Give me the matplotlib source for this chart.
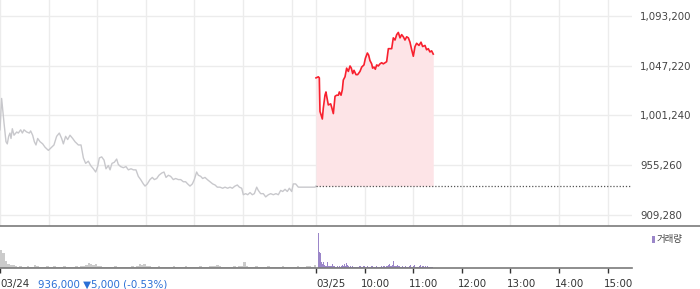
import matplotlib
matplotlib.use("Agg")
import matplotlib.pyplot as plt
import matplotlib.transforms as mtransforms
from matplotlib.patches import Rectangle
import numpy as np

# 03/24 intraday (minutes after 09:00, price)
day1_min = [0, 2, 5, 7.4, 9, 10.7, 12.3, 13.6, 15.2, 17.3, 20.6, 22.6, 25.5, 27.6, 29.6,
            32.9, 36.2, 37.8, 40.3, 42.4, 44.4, 46.5, 49.4, 52.7, 55.5, 59.7, 63.8, 66.6,
            69.9, 73.2, 76.1, 78.2, 81, 83.5, 86.4, 89.7, 92.6, 96.7, 100, 102.9, 105.7,
            109, 111.9, 115.2, 118.1, 120.5, 122.6, 125.5, 128.4, 130.8, 133.7, 135.8,
            138.2, 141.1, 144, 146, 148.9, 152.2, 155.5, 158.4, 161.7, 164.6, 167.8, 170.7,
            173.6, 176.9, 179, 181.8, 185.1, 188, 190.5, 193.4, 196.2, 199.5, 202.4, 204.9,
            207.8, 210.6, 213.9, 216.8, 220.1, 223, 226.3, 229.1, 231.6, 234.5, 237.4,
            239.8, 242.7, 244.8, 247.7, 250.1, 253, 255.9, 259.2, 262.5, 265.4, 268.2,
            271.5, 274.8, 277.7, 281, 283.9, 286.7, 290, 292.9, 295.4, 298.3, 300.3, 303.2,
            305.7, 308.6, 311.4, 313.9, 316.8, 318.8, 321.7, 325, 327.9, 331.2, 334.1,
            337.3, 340.6, 343.5, 346.4, 348.9, 351.8, 354.6, 357.1, 360, 362, 364.9, 368.2,
            372.3, 376.4, 380.5, 384.7, 388.8, 390]
day1_price = [988000, 1017000, 994000, 977000, 975000, 982000, 985000, 980000, 989000,
              983000, 986000, 985000, 988000, 985000, 988000, 986000, 985000, 987000,
              983000, 977000, 974000, 980000, 977000, 975000, 972000, 969000, 972000,
              974000, 982000, 985000, 980000, 975000, 982000, 979000, 983000, 980000,
              977000, 974000, 974000, 962000, 957000, 959000, 955000, 952000, 949000,
              954000, 962000, 963000, 960000, 952000, 955000, 951000, 957000, 958000,
              961000, 956000, 954000, 953000, 954000, 951000, 952000, 951000, 951000,
              945000, 942000, 938000, 936000, 938000, 942000, 944000, 942000, 943000,
              946000, 948000, 949000, 944000, 946000, 945000, 942000, 943000, 942000,
              942000, 940000, 940000, 938000, 936000, 938000, 942000, 949000, 946000,
              945000, 943000, 944000, 942000, 940000, 938000, 937000, 935000, 935000,
              934000, 935000, 934000, 935000, 934000, 936000, 937000, 935000, 934000,
              928000, 929000, 928000, 930000, 928000, 929000, 935000, 932000, 929000,
              929000, 926000, 928000, 929000, 928000, 929000, 928000, 932000, 931000,
              933000, 931000, 934000, 931000, 938000, 938000, 935000, 935000, 935000,
              935000, 935000, 935000, 936000]

# 03/25 intraday
day2_min = [0, 2.9, 4.1, 4.9, 6.2, 7.8, 9, 11.1, 12.3, 13.2, 15.2, 18.1, 19.3, 21.4, 23.5,
            25.5, 27.6, 28.8, 30.9, 32.5, 33.7, 35.8, 37.8, 39.9, 42, 43.6, 45.3, 46.9,
            49.4, 51.4, 54.3, 56.4, 59.2, 60.9, 63.4, 65, 66.6, 68.7, 69.9, 71.6, 73.2,
            74.9, 76.9, 79, 81, 83.1, 85.2, 87.2, 89.3, 91.3, 93.4, 95.4, 97.5, 99.6,
            101.6, 103.7, 105.7, 107.8, 109.8, 111.9, 114, 116, 118.1, 120.1, 122.2,
            124.2, 127.1, 129.6, 131.6, 134.5, 136.5, 138.6, 140.6, 142.7, 144.7]
day2_price = [1036000, 1037000, 1036000, 1005000, 1002000, 998000, 1008000, 1020000,
              1023000, 1019000, 1011000, 1012000, 1009000, 1003000, 1019000, 1020000,
              1020000, 1023000, 1020000, 1025000, 1034000, 1037000, 1045000, 1042000,
              1047000, 1045000, 1040000, 1043000, 1039000, 1039000, 1042000, 1046000,
              1048000, 1054000, 1059000, 1057000, 1052000, 1049000, 1045000, 1046000,
              1044000, 1048000, 1047000, 1049000, 1050000, 1049000, 1050000, 1051000,
              1063000, 1063000, 1063000, 1073000, 1071000, 1076000, 1078000, 1073000,
              1076000, 1074000, 1071000, 1074000, 1073000, 1069000, 1062000, 1056000,
              1065000, 1068000, 1066000, 1069000, 1065000, 1066000, 1062000, 1063000,
              1060000, 1061000, 1058000]

prev_close = 936000

# volume: 03/24 in 3-minute bins, 03/25 per minute
vol1 = [17.7, 15.0, 7.5, 4.0, 3.3, 3.0, 2.0, 1.5, 1.7, 1.3,
        1.5, 2.0, 1.5, 1.3, 3.3, 1.7, 1.5, 1.3, 1.5, 1.8,
        1.5, 1.3, 2.0, 1.5, 1.3, 1.5, 1.7, 1.3, 1.5, 1.3,
        1.5, 1.8, 1.5, 1.7, 2.5, 3.0, 5.0, 4.0, 3.5, 4.5,
        2.5, 1.7, 1.5, 1.3, 1.5, 1.3, 1.5, 1.7, 1.3, 1.5,
        1.3, 1.5, 1.3, 1.5, 1.7, 1.5, 2.5, 4.3, 3.5, 4.0,
        2.5, 1.7, 1.5, 1.3, 1.5, 1.8, 1.5, 1.3, 1.5, 1.3,
        1.5, 1.7, 1.3, 1.5, 1.3, 1.5, 2.0, 1.5, 1.3, 1.5,
        1.3, 1.5, 1.7, 1.5, 1.3, 1.5, 2.0, 1.7, 2.5, 3.5,
        1.7, 1.5, 1.3, 1.5, 1.3, 1.5, 1.7, 1.5, 2.0, 2.5,
        5.7, 2.0, 1.5, 1.3, 1.5, 1.7, 1.3, 1.5, 1.3, 1.5,
        1.7, 1.5, 1.3, 1.5, 1.3, 1.5, 1.8, 1.5, 1.3, 1.5,
        1.3, 1.5, 1.7, 1.5, 1.3, 1.5, 2.5, 1.7, 1.5, 2.7]
vol2 = [0, 0, 35.3, 15.7, 14.7, 11.3, 6.3, 3.7, 5.7, 3.0,
        2.5, 2.3, 2.3, 6.3, 2.3, 2.0, 2.3, 2.0, 1.7, 3.7,
        2.0, 1.5, 1.7, 1.3, 1.5, 2.0, 1.5, 1.3, 2.3, 1.5,
        2.0, 2.5, 3.0, 2.3, 3.7, 2.5, 4.7, 2.5, 3.0, 1.7,
        1.5, 2.0, 1.3, 1.5, 2.3, 1.5, 1.3, 1.5, 1.3, 1.5,
        1.3, 1.5, 1.7, 1.3, 2.0, 1.5, 1.3, 1.5, 1.7, 2.0,
        1.5, 1.3, 1.5, 1.7, 1.5, 1.3, 1.5, 1.7, 2.0, 1.5,
        1.3, 1.5, 1.3, 1.5, 1.7, 1.5, 1.3, 1.5, 1.3, 1.5,
        1.7, 1.5, 2.0, 1.5, 1.7, 1.5, 2.0, 2.3, 3.0, 4.0,
        2.3, 2.0, 1.7, 3.0, 7.3, 3.3, 2.0, 2.3, 1.7, 2.0,
        3.3, 2.3, 1.7, 1.5, 1.3, 1.5, 1.7, 1.3, 1.5, 1.7,
        1.3, 1.5, 1.3, 1.5, 1.7, 2.0, 2.7, 1.5, 1.3, 2.0,
        3.0, 1.7, 1.3, 1.5, 1.0, 1.3, 1.5, 2.0, 2.7, 1.5,
        1.7, 1.5, 1.7, 1.3, 1.7, 1.5, 1.3, 1.7, 1.5, 1.3,
        1.0, 1.3, 1.0, 1.0]

y_ticks = [909280, 955260, 1001240, 1047220, 1093200]
x_ticks = [0, 390, 450, 510, 570, 630, 690, 750]
x_labels = ["03/24", "03/25", "10:00", "11:00", "12:00", "13:00", "14:00", "15:00"]
summary = "936,000 \u25bc5,000 (-0.53%)"

W, H = 700, 289
fig = plt.figure(figsize=(W / 100, H / 100), dpi=100)

# main price panel: x 0..632 px, y 0..226 px from top
ax = fig.add_axes([0, (H - 226) / H, 632 / W, 226 / H])
ax.set_xlim(0, 780)
ax.set_ylim(899100, 1108000)
for s in ax.spines.values():
    s.set_visible(False)
ax.set_xticks([])
ax.yaxis.tick_right()
ax.set_yticks(y_ticks)
ax.set_yticklabels([f"{v:,}" for v in y_ticks])
ax.tick_params(axis="y", length=0, pad=5.8, labelsize=7.4, labelcolor="#444444")
for v in y_ticks:
    ax.axhline(v, color="#ececec", lw=1, zorder=0)
for m in list(range(0, 390, 60)) + [390] + list(range(450, 780, 60)):
    ax.axvline(m, color="#ececec", lw=1, zorder=0)

ax.plot(day1_min, day1_price, color="#c8c8cc", lw=1, zorder=2)
x2 = np.array(day2_min) + 390
ax.fill_between(x2, day2_price, prev_close, color="#fde4e7", lw=0, zorder=1)
ax.plot(x2, day2_price, color="#f8202e", lw=1.2, zorder=3)
ax.plot([390, 780], [prev_close, prev_close], color="#555555", lw=0.9,
        ls=(0, (1, 1.5)), zorder=2)

# volume panel
axv = fig.add_axes([0, (H - 268) / H, 632 / W, 42 / H])
axv.set_xlim(0, 780)
axv.set_ylim(0, 42)
for s in axv.spines.values():
    s.set_visible(False)
axv.set_yticks([])
e1 = np.arange(len(vol1) + 1) * 3
axv.fill_between(e1, list(vol1) + [vol1[-1]], step="post", color="#cbcbcb", lw=0)
# one-pixel sticks for the per-minute bars
m2 = np.arange(len(vol2)) + 390.5
axv.vlines(m2, 0, vol2, color="#9b86c9", lw=0.72, antialiased=False)

axv.set_xticks(x_ticks)
axv.set_xticklabels(x_labels)
axv.tick_params(axis="x", length=3.5, width=1, color="#333333", pad=4.5,
                labelsize=7.4, labelcolor="#333333")
for i, lab in enumerate(axv.get_xticklabels()):
    lab.set_horizontalalignment("left")
    if i >= 2:
        lab.set_transform(lab.get_transform() +
                          mtransforms.ScaledTranslation(-4 / 100, 0, fig.dpi_scale_trans))

# separator lines
fig.add_artist(plt.Line2D([0, 1], [(H - 226) / H] * 2, color="#7a7a7a", lw=1.2))
fig.add_artist(plt.Line2D([0, 632 / W], [(H - 268) / H] * 2, color="#7a7a7a", lw=1.2))

# price summary next to the first date
fig.text(38 / W, (H - 284.5) / H, summary, color="#2a6fd6", fontsize=7.4,
         family=["DejaVu Sans"], va="center", ha="left")

# volume legend
fig.add_artist(Rectangle((652 / W, (H - 243) / H), 3 / W, 7 / H,
                         transform=fig.transFigure, color="#9b86c9", lw=0))
fig.text(657 / W, (H - 239.5) / H, "거래량", fontsize=6.8, color="#444444",
         family=["Noto Sans CJK KR", "DejaVu Sans"], va="center", ha="left")

fig.savefig("out.png", dpi=100)
